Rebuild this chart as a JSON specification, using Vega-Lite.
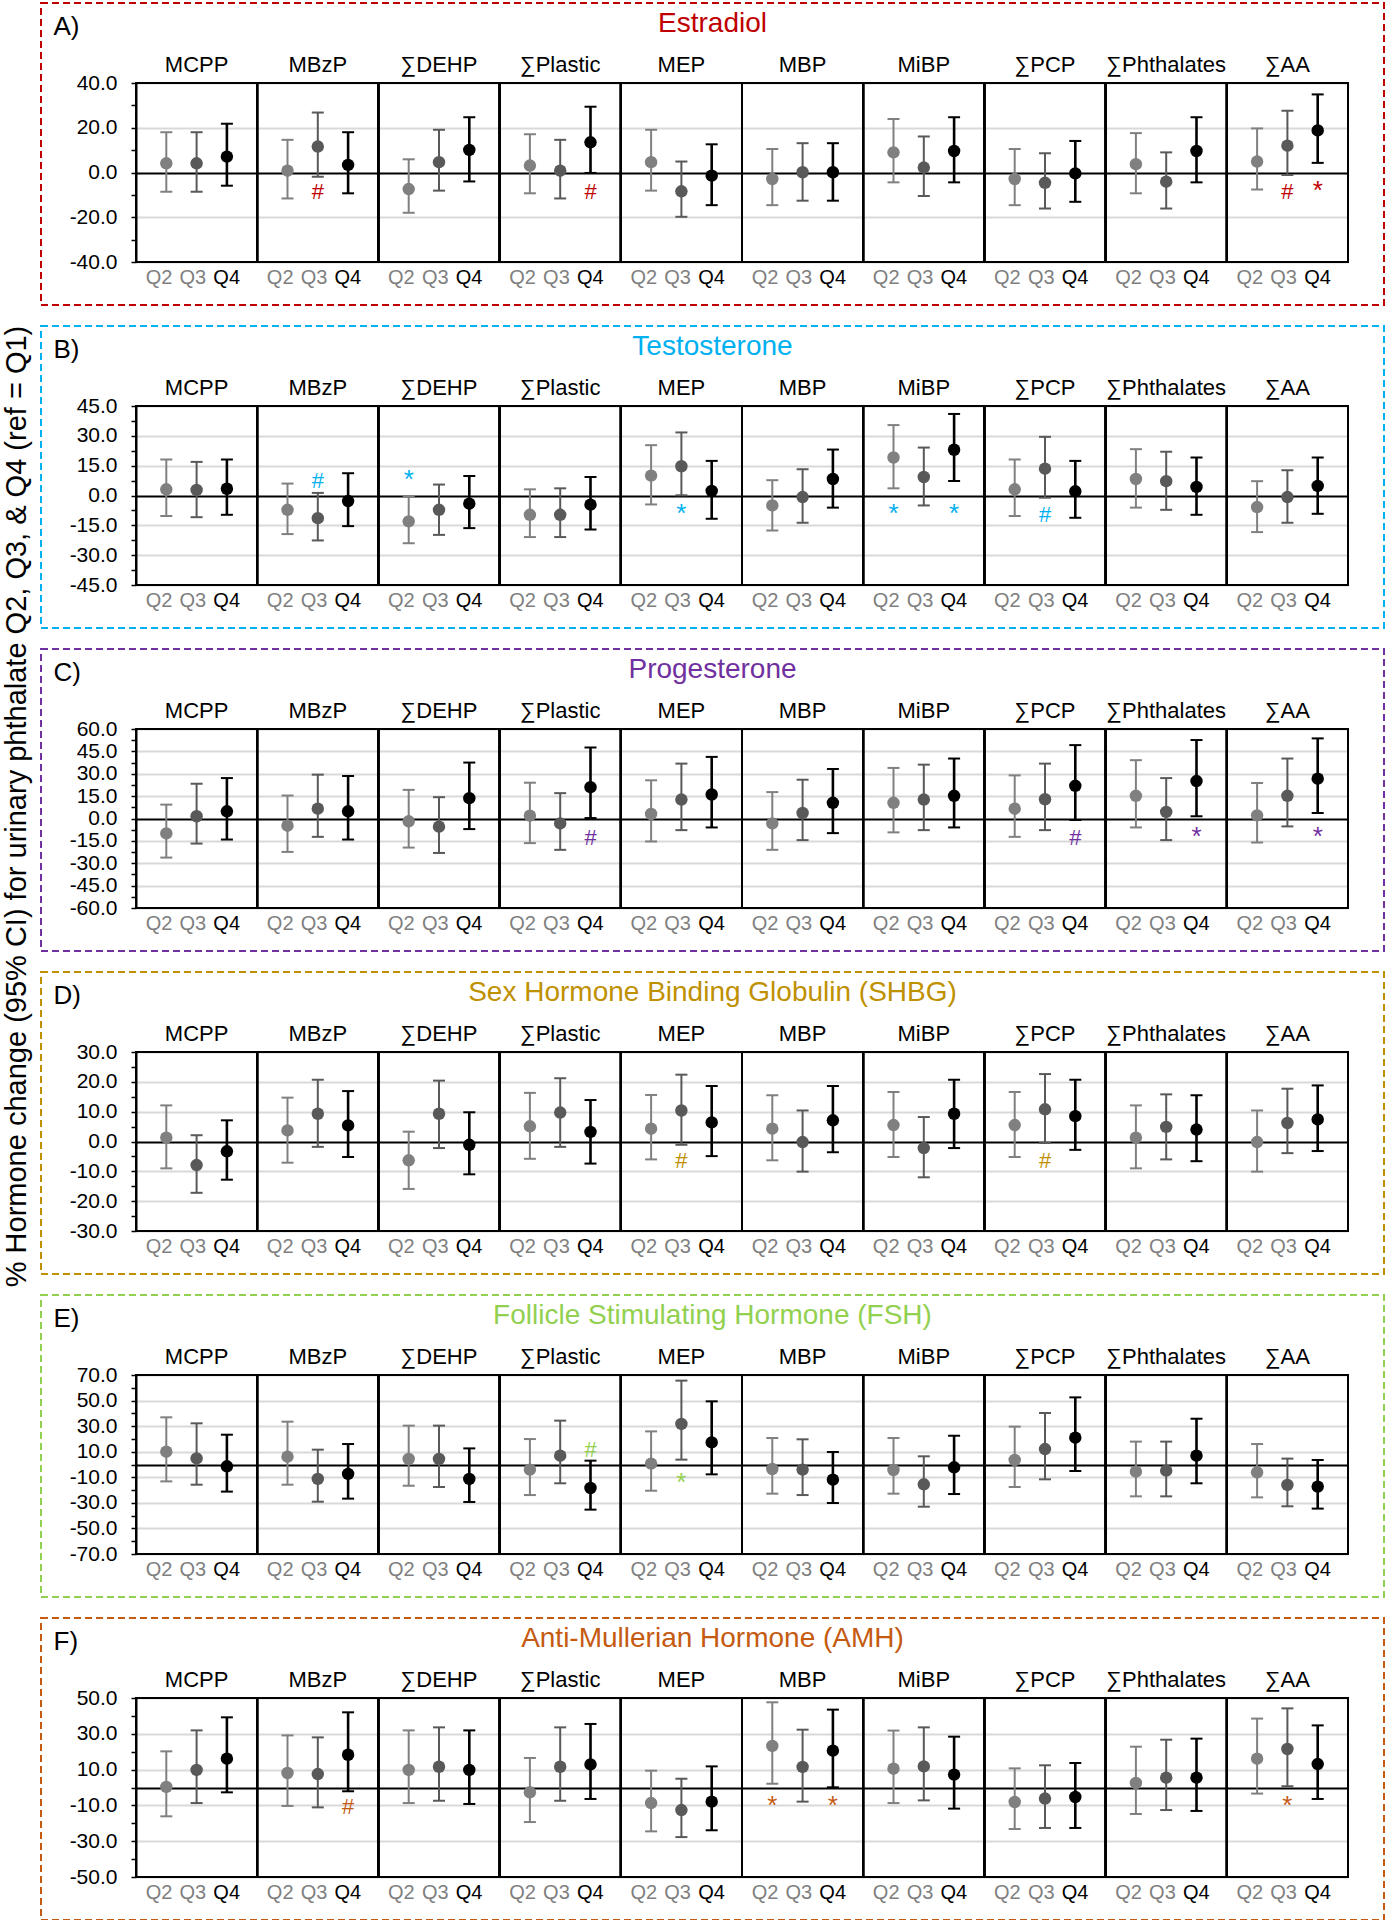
{
"$schema":"https://vega.github.io/schema/vega-lite/v6.json",
"background":"white",
"padding":{"left":2,"top":2,"right":0,"bottom":0},
"bounds":"flush",
"spacing":21,
"title":{"text":"% Hormone change (95% CI) for urinary phthalate Q2, Q3, & Q4 (ref = Q1)","orient":"left","anchor":"middle","fontSize":29,"fontWeight":"normal","color":"#000","offset":8,"dx":155},
"config":{"font":"Liberation Sans","view":{"stroke":null}},
"datasets":{"d":[
{"hormone":"Estradiol","exposure":"MCPP","quartile":"Q2","est":4.1,"lo":-8.6,"hi":18.0,"sig":""},
{"hormone":"Estradiol","exposure":"MCPP","quartile":"Q3","est":4.1,"lo":-8.6,"hi":18.0,"sig":""},
{"hormone":"Estradiol","exposure":"MCPP","quartile":"Q4","est":7.1,"lo":-5.9,"hi":21.8,"sig":""},
{"hormone":"Estradiol","exposure":"MBzP","quartile":"Q2","est":0.8,"lo":-11.6,"hi":14.6,"sig":""},
{"hormone":"Estradiol","exposure":"MBzP","quartile":"Q3","est":11.6,"lo":-1.9,"hi":26.8,"sig":"#"},
{"hormone":"Estradiol","exposure":"MBzP","quartile":"Q4","est":3.4,"lo":-9.3,"hi":18.0,"sig":""},
{"hormone":"Estradiol","exposure":"∑DEHP","quartile":"Q2","est":-7.4,"lo":-18.0,"hi":5.9,"sig":""},
{"hormone":"Estradiol","exposure":"∑DEHP","quartile":"Q3","est":4.6,"lo":-8.1,"hi":19.1,"sig":""},
{"hormone":"Estradiol","exposure":"∑DEHP","quartile":"Q4","est":10.1,"lo":-4.0,"hi":24.7,"sig":""},
{"hormone":"Estradiol","exposure":"∑Plastic","quartile":"Q2","est":3.1,"lo":-9.3,"hi":17.1,"sig":""},
{"hormone":"Estradiol","exposure":"∑Plastic","quartile":"Q3","est":0.8,"lo":-11.6,"hi":14.6,"sig":""},
{"hormone":"Estradiol","exposure":"∑Plastic","quartile":"Q4","est":13.5,"lo":-0.2,"hi":29.4,"sig":"#"},
{"hormone":"Estradiol","exposure":"MEP","quartile":"Q2","est":4.6,"lo":-8.1,"hi":19.1,"sig":""},
{"hormone":"Estradiol","exposure":"MEP","quartile":"Q3","est":-8.4,"lo":-19.8,"hi":4.9,"sig":""},
{"hormone":"Estradiol","exposure":"MEP","quartile":"Q4","est":-1.4,"lo":-14.6,"hi":12.6,"sig":""},
{"hormone":"Estradiol","exposure":"MBP","quartile":"Q2","est":-2.9,"lo":-14.6,"hi":10.5,"sig":""},
{"hormone":"Estradiol","exposure":"MBP","quartile":"Q3","est":0.1,"lo":-12.6,"hi":13.1,"sig":""},
{"hormone":"Estradiol","exposure":"MBP","quartile":"Q4","est":0.1,"lo":-12.6,"hi":13.1,"sig":""},
{"hormone":"Estradiol","exposure":"MiBP","quartile":"Q2","est":9.0,"lo":-4.4,"hi":23.9,"sig":""},
{"hormone":"Estradiol","exposure":"MiBP","quartile":"Q3","est":2.2,"lo":-10.5,"hi":16.1,"sig":""},
{"hormone":"Estradiol","exposure":"MiBP","quartile":"Q4","est":9.6,"lo":-4.4,"hi":24.7,"sig":""},
{"hormone":"Estradiol","exposure":"∑PCP","quartile":"Q2","est":-2.9,"lo":-14.6,"hi":10.5,"sig":""},
{"hormone":"Estradiol","exposure":"∑PCP","quartile":"Q3","est":-4.6,"lo":-16.1,"hi":8.6,"sig":""},
{"hormone":"Estradiol","exposure":"∑PCP","quartile":"Q4","est":-0.4,"lo":-13.1,"hi":14.1,"sig":""},
{"hormone":"Estradiol","exposure":"∑Phthalates","quartile":"Q2","est":3.7,"lo":-9.3,"hi":17.6,"sig":""},
{"hormone":"Estradiol","exposure":"∑Phthalates","quartile":"Q3","est":-4.1,"lo":-16.1,"hi":9.0,"sig":""},
{"hormone":"Estradiol","exposure":"∑Phthalates","quartile":"Q4","est":9.6,"lo":-4.4,"hi":24.7,"sig":""},
{"hormone":"Estradiol","exposure":"∑AA","quartile":"Q2","est":4.9,"lo":-7.6,"hi":19.7,"sig":""},
{"hormone":"Estradiol","exposure":"∑AA","quartile":"Q3","est":12.0,"lo":-1.1,"hi":27.6,"sig":"#"},
{"hormone":"Estradiol","exposure":"∑AA","quartile":"Q4","est":18.8,"lo":4.3,"hi":34.9,"sig":"*"},
{"hormone":"Testosterone","exposure":"MCPP","quartile":"Q2","est":3.1,"lo":-10.3,"hi":18.1,"sig":""},
{"hormone":"Testosterone","exposure":"MCPP","quartile":"Q3","est":2.8,"lo":-10.9,"hi":16.9,"sig":""},
{"hormone":"Testosterone","exposure":"MCPP","quartile":"Q4","est":3.4,"lo":-9.7,"hi":18.1,"sig":""},
{"hormone":"Testosterone","exposure":"MBzP","quartile":"Q2","est":-7.2,"lo":-19.4,"hi":6.0,"sig":""},
{"hormone":"Testosterone","exposure":"MBzP","quartile":"Q3","est":-11.4,"lo":-22.6,"hi":1.3,"sig":"#"},
{"hormone":"Testosterone","exposure":"MBzP","quartile":"Q4","est":-2.8,"lo":-15.4,"hi":11.2,"sig":""},
{"hormone":"Testosterone","exposure":"∑DEHP","quartile":"Q2","est":-13.0,"lo":-24.0,"hi":-0.3,"sig":"*"},
{"hormone":"Testosterone","exposure":"∑DEHP","quartile":"Q3","est":-7.2,"lo":-19.8,"hi":5.5,"sig":""},
{"hormone":"Testosterone","exposure":"∑DEHP","quartile":"Q4","est":-4.1,"lo":-16.4,"hi":9.8,"sig":""},
{"hormone":"Testosterone","exposure":"∑Plastic","quartile":"Q2","est":-9.7,"lo":-20.9,"hi":3.1,"sig":""},
{"hormone":"Testosterone","exposure":"∑Plastic","quartile":"Q3","est":-9.7,"lo":-20.9,"hi":3.6,"sig":""},
{"hormone":"Testosterone","exposure":"∑Plastic","quartile":"Q4","est":-4.6,"lo":-17.1,"hi":9.3,"sig":""},
{"hormone":"Testosterone","exposure":"MEP","quartile":"Q2","est":10.0,"lo":-4.5,"hi":25.3,"sig":""},
{"hormone":"Testosterone","exposure":"MEP","quartile":"Q3","est":14.7,"lo":0.1,"hi":31.7,"sig":"*"},
{"hormone":"Testosterone","exposure":"MEP","quartile":"Q4","est":2.3,"lo":-11.7,"hi":17.4,"sig":""},
{"hormone":"Testosterone","exposure":"MBP","quartile":"Q2","est":-5.0,"lo":-17.6,"hi":7.7,"sig":""},
{"hormone":"Testosterone","exposure":"MBP","quartile":"Q3","est":-0.8,"lo":-13.7,"hi":13.2,"sig":""},
{"hormone":"Testosterone","exposure":"MBP","quartile":"Q4","est":8.3,"lo":-6.1,"hi":23.1,"sig":""},
{"hormone":"Testosterone","exposure":"MiBP","quartile":"Q2","est":19.1,"lo":3.6,"hi":35.4,"sig":"*"},
{"hormone":"Testosterone","exposure":"MiBP","quartile":"Q3","est":9.3,"lo":-5.0,"hi":24.1,"sig":""},
{"hormone":"Testosterone","exposure":"MiBP","quartile":"Q4","est":23.0,"lo":7.3,"hi":41.0,"sig":"*"},
{"hormone":"Testosterone","exposure":"∑PCP","quartile":"Q2","est":3.1,"lo":-10.3,"hi":18.1,"sig":""},
{"hormone":"Testosterone","exposure":"∑PCP","quartile":"Q3","est":13.5,"lo":-1.1,"hi":29.5,"sig":"#"},
{"hormone":"Testosterone","exposure":"∑PCP","quartile":"Q4","est":2.1,"lo":-11.2,"hi":17.4,"sig":""},
{"hormone":"Testosterone","exposure":"∑Phthalates","quartile":"Q2","est":8.3,"lo":-6.1,"hi":23.3,"sig":""},
{"hormone":"Testosterone","exposure":"∑Phthalates","quartile":"Q3","est":7.2,"lo":-7.2,"hi":22.0,"sig":""},
{"hormone":"Testosterone","exposure":"∑Phthalates","quartile":"Q4","est":4.3,"lo":-9.7,"hi":19.1,"sig":""},
{"hormone":"Testosterone","exposure":"∑AA","quartile":"Q2","est":-5.8,"lo":-18.4,"hi":7.2,"sig":""},
{"hormone":"Testosterone","exposure":"∑AA","quartile":"Q3","est":-0.8,"lo":-13.7,"hi":12.7,"sig":""},
{"hormone":"Testosterone","exposure":"∑AA","quartile":"Q4","est":4.8,"lo":-9.2,"hi":19.1,"sig":""},
{"hormone":"Progesterone","exposure":"MCPP","quartile":"Q2","est":-10.0,"lo":-26.2,"hi":9.3,"sig":""},
{"hormone":"Progesterone","exposure":"MCPP","quartile":"Q3","est":1.5,"lo":-16.8,"hi":23.3,"sig":""},
{"hormone":"Progesterone","exposure":"MCPP","quartile":"Q4","est":4.8,"lo":-14.1,"hi":27.1,"sig":""},
{"hormone":"Progesterone","exposure":"MBzP","quartile":"Q2","est":-4.8,"lo":-22.4,"hi":15.4,"sig":""},
{"hormone":"Progesterone","exposure":"MBzP","quartile":"Q3","est":6.6,"lo":-12.3,"hi":29.4,"sig":""},
{"hormone":"Progesterone","exposure":"MBzP","quartile":"Q4","est":4.8,"lo":-14.1,"hi":28.5,"sig":""},
{"hormone":"Progesterone","exposure":"∑DEHP","quartile":"Q2","est":-1.9,"lo":-19.5,"hi":19.2,"sig":""},
{"hormone":"Progesterone","exposure":"∑DEHP","quartile":"Q3","est":-5.5,"lo":-23.1,"hi":14.3,"sig":""},
{"hormone":"Progesterone","exposure":"∑DEHP","quartile":"Q4","est":13.6,"lo":-7.1,"hi":37.5,"sig":""},
{"hormone":"Progesterone","exposure":"∑Plastic","quartile":"Q2","est":1.9,"lo":-16.5,"hi":24.0,"sig":""},
{"hormone":"Progesterone","exposure":"∑Plastic","quartile":"Q3","est":-3.3,"lo":-21.0,"hi":17.0,"sig":""},
{"hormone":"Progesterone","exposure":"∑Plastic","quartile":"Q4","est":21.0,"lo":0.3,"hi":47.6,"sig":"#"},
{"hormone":"Progesterone","exposure":"MEP","quartile":"Q2","est":3.0,"lo":-15.4,"hi":25.6,"sig":""},
{"hormone":"Progesterone","exposure":"MEP","quartile":"Q3","est":12.7,"lo":-7.8,"hi":36.8,"sig":""},
{"hormone":"Progesterone","exposure":"MEP","quartile":"Q4","est":16.1,"lo":-6.0,"hi":41.3,"sig":""},
{"hormone":"Progesterone","exposure":"MBP","quartile":"Q2","est":-3.3,"lo":-21.0,"hi":17.7,"sig":""},
{"hormone":"Progesterone","exposure":"MBP","quartile":"Q3","est":3.7,"lo":-14.5,"hi":26.0,"sig":""},
{"hormone":"Progesterone","exposure":"MBP","quartile":"Q4","est":10.5,"lo":-9.8,"hi":33.2,"sig":""},
{"hormone":"Progesterone","exposure":"MiBP","quartile":"Q2","est":10.5,"lo":-9.3,"hi":33.9,"sig":""},
{"hormone":"Progesterone","exposure":"MiBP","quartile":"Q3","est":12.7,"lo":-7.8,"hi":36.1,"sig":""},
{"hormone":"Progesterone","exposure":"MiBP","quartile":"Q4","est":15.2,"lo":-6.0,"hi":40.2,"sig":""},
{"hormone":"Progesterone","exposure":"∑PCP","quartile":"Q2","est":6.6,"lo":-12.3,"hi":28.9,"sig":""},
{"hormone":"Progesterone","exposure":"∑PCP","quartile":"Q3","est":12.9,"lo":-7.8,"hi":36.8,"sig":""},
{"hormone":"Progesterone","exposure":"∑PCP","quartile":"Q4","est":21.9,"lo":-1.0,"hi":49.2,"sig":"#"},
{"hormone":"Progesterone","exposure":"∑Phthalates","quartile":"Q2","est":15.2,"lo":-6.0,"hi":39.1,"sig":""},
{"hormone":"Progesterone","exposure":"∑Phthalates","quartile":"Q3","est":4.4,"lo":-14.5,"hi":27.1,"sig":""},
{"hormone":"Progesterone","exposure":"∑Phthalates","quartile":"Q4","est":25.1,"lo":1.5,"hi":52.6,"sig":"*"},
{"hormone":"Progesterone","exposure":"∑AA","quartile":"Q2","est":2.1,"lo":-16.1,"hi":23.8,"sig":""},
{"hormone":"Progesterone","exposure":"∑AA","quartile":"Q3","est":15.2,"lo":-5.3,"hi":40.2,"sig":""},
{"hormone":"Progesterone","exposure":"∑AA","quartile":"Q4","est":26.7,"lo":3.7,"hi":53.7,"sig":"*"},
{"hormone":"SHBG","exposure":"MCPP","quartile":"Q2","est":1.3,"lo":-9.0,"hi":12.1,"sig":""},
{"hormone":"SHBG","exposure":"MCPP","quartile":"Q3","est":-7.9,"lo":-17.2,"hi":2.1,"sig":""},
{"hormone":"SHBG","exposure":"MCPP","quartile":"Q4","est":-3.3,"lo":-12.8,"hi":7.1,"sig":""},
{"hormone":"SHBG","exposure":"MBzP","quartile":"Q2","est":3.7,"lo":-7.1,"hi":14.7,"sig":""},
{"hormone":"SHBG","exposure":"MBzP","quartile":"Q3","est":9.3,"lo":-1.8,"hi":20.7,"sig":""},
{"hormone":"SHBG","exposure":"MBzP","quartile":"Q4","est":5.4,"lo":-5.2,"hi":16.9,"sig":""},
{"hormone":"SHBG","exposure":"∑DEHP","quartile":"Q2","est":-6.3,"lo":-15.9,"hi":3.3,"sig":""},
{"hormone":"SHBG","exposure":"∑DEHP","quartile":"Q3","est":9.3,"lo":-2.2,"hi":20.4,"sig":""},
{"hormone":"SHBG","exposure":"∑DEHP","quartile":"Q4","est":-1.1,"lo":-11.0,"hi":9.8,"sig":""},
{"hormone":"SHBG","exposure":"∑Plastic","quartile":"Q2","est":5.1,"lo":-5.8,"hi":16.3,"sig":""},
{"hormone":"SHBG","exposure":"∑Plastic","quartile":"Q3","est":9.7,"lo":-1.8,"hi":21.2,"sig":""},
{"hormone":"SHBG","exposure":"∑Plastic","quartile":"Q4","est":3.2,"lo":-7.4,"hi":13.9,"sig":""},
{"hormone":"SHBG","exposure":"MEP","quartile":"Q2","est":4.3,"lo":-6.0,"hi":15.6,"sig":""},
{"hormone":"SHBG","exposure":"MEP","quartile":"Q3","est":10.4,"lo":-1.1,"hi":22.4,"sig":"#"},
{"hormone":"SHBG","exposure":"MEP","quartile":"Q4","est":6.4,"lo":-4.9,"hi":18.6,"sig":""},
{"hormone":"SHBG","exposure":"MBP","quartile":"Q2","est":4.3,"lo":-6.3,"hi":15.5,"sig":""},
{"hormone":"SHBG","exposure":"MBP","quartile":"Q3","est":-0.2,"lo":-10.1,"hi":10.4,"sig":""},
{"hormone":"SHBG","exposure":"MBP","quartile":"Q4","est":7.1,"lo":-3.6,"hi":18.6,"sig":""},
{"hormone":"SHBG","exposure":"MiBP","quartile":"Q2","est":5.5,"lo":-5.2,"hi":16.6,"sig":""},
{"hormone":"SHBG","exposure":"MiBP","quartile":"Q3","est":-2.2,"lo":-12.0,"hi":8.2,"sig":""},
{"hormone":"SHBG","exposure":"MiBP","quartile":"Q4","est":9.3,"lo":-2.2,"hi":20.7,"sig":""},
{"hormone":"SHBG","exposure":"∑PCP","quartile":"Q2","est":5.5,"lo":-5.2,"hi":16.6,"sig":""},
{"hormone":"SHBG","exposure":"∑PCP","quartile":"Q3","est":10.8,"lo":-0.5,"hi":22.6,"sig":"#"},
{"hormone":"SHBG","exposure":"∑PCP","quartile":"Q4","est":8.5,"lo":-2.8,"hi":20.7,"sig":""},
{"hormone":"SHBG","exposure":"∑Phthalates","quartile":"Q2","est":1.3,"lo":-9.0,"hi":12.1,"sig":""},
{"hormone":"SHBG","exposure":"∑Phthalates","quartile":"Q3","est":4.9,"lo":-6.0,"hi":15.8,"sig":""},
{"hormone":"SHBG","exposure":"∑Phthalates","quartile":"Q4","est":4.0,"lo":-6.6,"hi":15.5,"sig":""},
{"hormone":"SHBG","exposure":"∑AA","quartile":"Q2","est":-0.2,"lo":-10.1,"hi":10.4,"sig":""},
{"hormone":"SHBG","exposure":"∑AA","quartile":"Q3","est":6.2,"lo":-3.9,"hi":17.7,"sig":""},
{"hormone":"SHBG","exposure":"∑AA","quartile":"Q4","est":7.4,"lo":-3.2,"hi":18.8,"sig":""},
{"hormone":"FSH","exposure":"MCPP","quartile":"Q2","est":10.0,"lo":-13.2,"hi":36.9,"sig":""},
{"hormone":"FSH","exposure":"MCPP","quartile":"Q3","est":4.8,"lo":-15.8,"hi":32.2,"sig":""},
{"hormone":"FSH","exposure":"MCPP","quartile":"Q4","est":-1.4,"lo":-21.2,"hi":23.3,"sig":""},
{"hormone":"FSH","exposure":"MBzP","quartile":"Q2","est":6.1,"lo":-15.8,"hi":33.5,"sig":""},
{"hormone":"FSH","exposure":"MBzP","quartile":"Q3","est":-11.3,"lo":-29.1,"hi":11.6,"sig":""},
{"hormone":"FSH","exposure":"MBzP","quartile":"Q4","est":-7.4,"lo":-26.7,"hi":16.0,"sig":""},
{"hormone":"FSH","exposure":"∑DEHP","quartile":"Q2","est":4.3,"lo":-16.6,"hi":30.4,"sig":""},
{"hormone":"FSH","exposure":"∑DEHP","quartile":"Q3","est":4.3,"lo":-17.6,"hi":30.4,"sig":""},
{"hormone":"FSH","exposure":"∑DEHP","quartile":"Q4","est":-11.3,"lo":-29.3,"hi":12.6,"sig":""},
{"hormone":"FSH","exposure":"∑Plastic","quartile":"Q2","est":-4.0,"lo":-23.9,"hi":19.9,"sig":""},
{"hormone":"FSH","exposure":"∑Plastic","quartile":"Q3","est":6.9,"lo":-14.7,"hi":34.3,"sig":""},
{"hormone":"FSH","exposure":"∑Plastic","quartile":"Q4","est":-18.4,"lo":-35.3,"hi":3.0,"sig":"#"},
{"hormone":"FSH","exposure":"MEP","quartile":"Q2","est":0.7,"lo":-20.5,"hi":25.9,"sig":""},
{"hormone":"FSH","exposure":"MEP","quartile":"Q3","est":31.7,"lo":3.8,"hi":65.6,"sig":"*"},
{"hormone":"FSH","exposure":"MEP","quartile":"Q4","est":17.3,"lo":-7.7,"hi":49.4,"sig":""},
{"hormone":"FSH","exposure":"MBP","quartile":"Q2","est":-3.5,"lo":-22.8,"hi":20.7,"sig":""},
{"hormone":"FSH","exposure":"MBP","quartile":"Q3","est":-4.0,"lo":-23.9,"hi":19.7,"sig":""},
{"hormone":"FSH","exposure":"MBP","quartile":"Q4","est":-11.9,"lo":-30.1,"hi":9.8,"sig":""},
{"hormone":"FSH","exposure":"MiBP","quartile":"Q2","est":-4.3,"lo":-22.8,"hi":20.7,"sig":""},
{"hormone":"FSH","exposure":"MiBP","quartile":"Q3","est":-15.5,"lo":-33.0,"hi":6.4,"sig":""},
{"hormone":"FSH","exposure":"MiBP","quartile":"Q4","est":-2.2,"lo":-23.1,"hi":22.5,"sig":""},
{"hormone":"FSH","exposure":"∑PCP","quartile":"Q2","est":3.5,"lo":-17.6,"hi":29.6,"sig":""},
{"hormone":"FSH","exposure":"∑PCP","quartile":"Q3","est":12.1,"lo":-11.6,"hi":40.3,"sig":""},
{"hormone":"FSH","exposure":"∑PCP","quartile":"Q4","est":21.0,"lo":-5.1,"hi":52.5,"sig":""},
{"hormone":"FSH","exposure":"∑Phthalates","quartile":"Q2","est":-5.6,"lo":-24.9,"hi":17.9,"sig":""},
{"hormone":"FSH","exposure":"∑Phthalates","quartile":"Q3","est":-4.8,"lo":-24.9,"hi":17.9,"sig":""},
{"hormone":"FSH","exposure":"∑Phthalates","quartile":"Q4","est":6.9,"lo":-14.7,"hi":35.8,"sig":""},
{"hormone":"FSH","exposure":"∑AA","quartile":"Q2","est":-6.1,"lo":-25.7,"hi":16.0,"sig":""},
{"hormone":"FSH","exposure":"∑AA","quartile":"Q3","est":-16.0,"lo":-32.7,"hi":4.6,"sig":""},
{"hormone":"FSH","exposure":"∑AA","quartile":"Q4","est":-17.3,"lo":-34.5,"hi":3.5,"sig":""},
{"hormone":"AMH","exposure":"MCPP","quartile":"Q2","est":0.3,"lo":-16.1,"hi":20.2,"sig":""},
{"hormone":"AMH","exposure":"MCPP","quartile":"Q3","est":9.8,"lo":-8.7,"hi":31.9,"sig":""},
{"hormone":"AMH","exposure":"MCPP","quartile":"Q4","est":16.1,"lo":-2.7,"hi":39.2,"sig":""},
{"hormone":"AMH","exposure":"MBzP","quartile":"Q2","est":8.1,"lo":-10.3,"hi":29.1,"sig":""},
{"hormone":"AMH","exposure":"MBzP","quartile":"Q3","est":7.5,"lo":-11.1,"hi":28.0,"sig":""},
{"hormone":"AMH","exposure":"MBzP","quartile":"Q4","est":18.3,"lo":-2.1,"hi":42.0,"sig":"#"},
{"hormone":"AMH","exposure":"∑DEHP","quartile":"Q2","est":9.8,"lo":-8.7,"hi":31.9,"sig":""},
{"hormone":"AMH","exposure":"∑DEHP","quartile":"Q3","est":11.6,"lo":-7.4,"hi":33.6,"sig":""},
{"hormone":"AMH","exposure":"∑DEHP","quartile":"Q4","est":9.8,"lo":-9.2,"hi":31.9,"sig":""},
{"hormone":"AMH","exposure":"∑Plastic","quartile":"Q2","est":-2.7,"lo":-19.3,"hi":16.5,"sig":""},
{"hormone":"AMH","exposure":"∑Plastic","quartile":"Q3","est":11.6,"lo":-7.4,"hi":33.6,"sig":""},
{"hormone":"AMH","exposure":"∑Plastic","quartile":"Q4","est":12.9,"lo":-6.4,"hi":35.5,"sig":""},
{"hormone":"AMH","exposure":"MEP","quartile":"Q2","est":-8.7,"lo":-24.5,"hi":9.4,"sig":""},
{"hormone":"AMH","exposure":"MEP","quartile":"Q3","est":-12.6,"lo":-27.7,"hi":4.9,"sig":""},
{"hormone":"AMH","exposure":"MEP","quartile":"Q4","est":-7.9,"lo":-23.9,"hi":11.8,"sig":""},
{"hormone":"AMH","exposure":"MBP","quartile":"Q2","est":23.2,"lo":2.1,"hi":47.6,"sig":"*"},
{"hormone":"AMH","exposure":"MBP","quartile":"Q3","est":11.5,"lo":-7.9,"hi":32.3,"sig":""},
{"hormone":"AMH","exposure":"MBP","quartile":"Q4","est":20.6,"lo":0.1,"hi":43.5,"sig":"*"},
{"hormone":"AMH","exposure":"MiBP","quartile":"Q2","est":10.5,"lo":-8.7,"hi":31.8,"sig":""},
{"hormone":"AMH","exposure":"MiBP","quartile":"Q3","est":11.8,"lo":-7.2,"hi":33.6,"sig":""},
{"hormone":"AMH","exposure":"MiBP","quartile":"Q4","est":7.2,"lo":-11.8,"hi":28.4,"sig":""},
{"hormone":"AMH","exposure":"∑PCP","quartile":"Q2","est":-8.1,"lo":-23.2,"hi":10.7,"sig":""},
{"hormone":"AMH","exposure":"∑PCP","quartile":"Q3","est":-6.2,"lo":-22.6,"hi":12.4,"sig":""},
{"hormone":"AMH","exposure":"∑PCP","quartile":"Q4","est":-5.3,"lo":-22.6,"hi":13.7,"sig":""},
{"hormone":"AMH","exposure":"∑Phthalates","quartile":"Q2","est":2.5,"lo":-14.8,"hi":22.8,"sig":""},
{"hormone":"AMH","exposure":"∑Phthalates","quartile":"Q3","est":5.5,"lo":-12.6,"hi":26.7,"sig":""},
{"hormone":"AMH","exposure":"∑Phthalates","quartile":"Q4","est":5.5,"lo":-13.1,"hi":27.3,"sig":""},
{"hormone":"AMH","exposure":"∑AA","quartile":"Q2","est":16.1,"lo":-3.4,"hi":38.5,"sig":""},
{"hormone":"AMH","exposure":"∑AA","quartile":"Q3","est":21.5,"lo":0.7,"hi":44.2,"sig":"*"},
{"hormone":"AMH","exposure":"∑AA","quartile":"Q4","est":13.1,"lo":-6.4,"hi":34.7,"sig":""}
]},
"vconcat":[
{"width":1343,"height":302,
"view":{"stroke":"#c00000","strokeDash":[7,4],"strokeWidth":2},
"title":{"text":"Estradiol","color":"#c00000","fontSize":28,"fontWeight":"normal","anchor":"middle","frame":"group","offset":-57,"baseline":"alphabetic"},
"data":{"name":"d"},
"transform":[{"filter":"datum.hormone === 'Estradiol'"}],
"resolve":{"scale":{"xOffset":"independent"}},
"encoding":{"x":{"field":"exposure","type":"nominal","scale":{"domain":["MCPP","MBzP","∑DEHP","∑Plastic","MEP","MBP","MiBP","∑PCP","∑Phthalates","∑AA"],"range":[95,1307],"paddingInner":0,"paddingOuter":0},"axis":{"orient":"top","offset":-80,"domain":false,"ticks":false,"grid":false,"labelAngle":0,"labelFontSize":22,"labelColor":"#000","labelPadding":12,"labelBaseline":"alphabetic","labelLimit":300,"labelOverlap":false,"title":"A)","titleX":12,"titleY":-49,"titleAngle":0,"titleAlign":"left","titleBaseline":"alphabetic","titleFontSize":26,"titleFontWeight":"normal","titleColor":"#000"}}},
"layer":[
{"mark":{"type":"rect","fill":"transparent","stroke":"#000","strokeWidth":2},"encoding":{"y":{"datum":40,"type":"quantitative","scale":{"domain":[-40,40],"range":[259,80],"nice":false,"zero":false}},"y2":{"datum":-40}}},
{"mark":{"type":"rule"},"encoding":{"xOffset":{"field":"quartile","type":"nominal","scale":{"type":"point","padding":1,"domain":["Q2","Q3","Q4"]}},"y":{"field":"lo","type":"quantitative","scale":{"domain":[-40,40],"range":[259,80],"nice":false,"zero":false}},"y2":{"field":"hi"},"color":{"field":"quartile","type":"nominal","scale":{"domain":["Q2","Q3","Q4"],"range":["#808080","#595959","#000000"]},"legend":null},"strokeWidth":{"condition":{"test":"datum.quartile === 'Q4'","value":2.6},"value":2}}},
{"mark":{"type":"tick","size":12,"thickness":2,"opacity":1},"encoding":{"xOffset":{"field":"quartile","type":"nominal","scale":{"type":"point","padding":1,"domain":["Q2","Q3","Q4"]}},"y":{"field":"lo","type":"quantitative","scale":{"domain":[-40,40],"range":[259,80],"nice":false,"zero":false}},"color":{"field":"quartile","type":"nominal","scale":{"domain":["Q2","Q3","Q4"],"range":["#808080","#595959","#000000"]},"legend":null}}},
{"mark":{"type":"tick","size":12,"thickness":2,"opacity":1},"encoding":{"xOffset":{"field":"quartile","type":"nominal","scale":{"type":"point","padding":1,"domain":["Q2","Q3","Q4"]}},"y":{"field":"hi","type":"quantitative","scale":{"domain":[-40,40],"range":[259,80],"nice":false,"zero":false}},"color":{"field":"quartile","type":"nominal","scale":{"domain":["Q2","Q3","Q4"],"range":["#808080","#595959","#000000"]},"legend":null}}},
{"mark":{"type":"circle","size":155,"opacity":1},"encoding":{"xOffset":{"field":"quartile","type":"nominal","scale":{"type":"point","padding":1,"domain":["Q2","Q3","Q4"]}},"y":{"field":"est","type":"quantitative","scale":{"domain":[-40,40],"range":[259,80],"nice":false,"zero":false},"axis":{"orient":"left","offset":-95,"values":[-40,-30,-20,-10,0,10,20,30,40],"tickCount":100,"format":".1f","labelExpr":"datum.value % 20 === 0 ? replace(datum.label, '\u2212', '-') : ''","labelFontSize":21,"labelColor":"#000","labelPadding":14,"labelOverlap":false,"labelFlush":false,"domain":true,"domainColor":"#000","domainWidth":2,"ticks":true,"tickSize":5,"tickColor":"#000","tickWidth":1.5,"grid":true,"gridColor":{"condition":{"test":"datum.value === 0","value":"#000"},"value":"#d9d9d9"},"gridWidth":2,"gridOpacity":{"condition":{"test":"datum.value % 20 !== 0","value":0},"value":1},"title":null}},"color":{"field":"quartile","type":"nominal","scale":{"domain":["Q2","Q3","Q4"],"range":["#808080","#595959","#000000"]},"legend":null}}},
{"transform":[{"filter":"datum.sig !== '' && datum.est > 0"}],"mark":{"type":"text","baseline":"alphabetic","dy":26,"color":"#c00000"},"encoding":{"xOffset":{"field":"quartile","type":"nominal","scale":{"type":"point","padding":1,"domain":["Q2","Q3","Q4"]}},"y":{"datum":0,"type":"quantitative","scale":{"domain":[-40,40],"range":[259,80],"nice":false,"zero":false}},"text":{"field":"sig"},"size":{"condition":{"test":"datum.sig === '*'","value":26},"value":22}}},
{"transform":[{"filter":"datum.sig !== '' && datum.est < 0"}],"mark":{"type":"text","baseline":"alphabetic","dy":-8,"color":"#c00000"},"encoding":{"xOffset":{"field":"quartile","type":"nominal","scale":{"type":"point","padding":1,"domain":["Q2","Q3","Q4"]}},"y":{"datum":0,"type":"quantitative","scale":{"domain":[-40,40],"range":[259,80],"nice":false,"zero":false}},"text":{"field":"sig"},"size":{"condition":{"test":"datum.sig === '*'","value":26},"value":22}}},
{"mark":{"type":"text","fontSize":20,"baseline":"alphabetic","dy":22},"encoding":{"xOffset":{"field":"quartile","type":"nominal","scale":{"type":"point","padding":0.79,"align":0.43,"domain":["Q2","Q3","Q4"]}},"y":{"datum":-40,"type":"quantitative","scale":{"domain":[-40,40],"range":[259,80],"nice":false,"zero":false}},"text":{"field":"quartile"},"color":{"condition":{"test":"datum.quartile === 'Q4'","value":"#000"},"value":"#7f7f7f"}}}
]},
{"width":1343,"height":302,
"view":{"stroke":"#00b0f0","strokeDash":[7,4],"strokeWidth":2},
"title":{"text":"Testosterone","color":"#00b0f0","fontSize":28,"fontWeight":"normal","anchor":"middle","frame":"group","offset":-57,"baseline":"alphabetic"},
"data":{"name":"d"},
"transform":[{"filter":"datum.hormone === 'Testosterone'"}],
"resolve":{"scale":{"xOffset":"independent"}},
"encoding":{"x":{"field":"exposure","type":"nominal","scale":{"domain":["MCPP","MBzP","∑DEHP","∑Plastic","MEP","MBP","MiBP","∑PCP","∑Phthalates","∑AA"],"range":[95,1307],"paddingInner":0,"paddingOuter":0},"axis":{"orient":"top","offset":-80,"domain":false,"ticks":false,"grid":false,"labelAngle":0,"labelFontSize":22,"labelColor":"#000","labelPadding":12,"labelBaseline":"alphabetic","labelLimit":300,"labelOverlap":false,"title":"B)","titleX":12,"titleY":-49,"titleAngle":0,"titleAlign":"left","titleBaseline":"alphabetic","titleFontSize":26,"titleFontWeight":"normal","titleColor":"#000"}}},
"layer":[
{"mark":{"type":"rect","fill":"transparent","stroke":"#000","strokeWidth":2},"encoding":{"y":{"datum":45,"type":"quantitative","scale":{"domain":[-45,45],"range":[259,80],"nice":false,"zero":false}},"y2":{"datum":-45}}},
{"mark":{"type":"rule"},"encoding":{"xOffset":{"field":"quartile","type":"nominal","scale":{"type":"point","padding":1,"domain":["Q2","Q3","Q4"]}},"y":{"field":"lo","type":"quantitative","scale":{"domain":[-45,45],"range":[259,80],"nice":false,"zero":false}},"y2":{"field":"hi"},"color":{"field":"quartile","type":"nominal","scale":{"domain":["Q2","Q3","Q4"],"range":["#808080","#595959","#000000"]},"legend":null},"strokeWidth":{"condition":{"test":"datum.quartile === 'Q4'","value":2.6},"value":2}}},
{"mark":{"type":"tick","size":12,"thickness":2,"opacity":1},"encoding":{"xOffset":{"field":"quartile","type":"nominal","scale":{"type":"point","padding":1,"domain":["Q2","Q3","Q4"]}},"y":{"field":"lo","type":"quantitative","scale":{"domain":[-45,45],"range":[259,80],"nice":false,"zero":false}},"color":{"field":"quartile","type":"nominal","scale":{"domain":["Q2","Q3","Q4"],"range":["#808080","#595959","#000000"]},"legend":null}}},
{"mark":{"type":"tick","size":12,"thickness":2,"opacity":1},"encoding":{"xOffset":{"field":"quartile","type":"nominal","scale":{"type":"point","padding":1,"domain":["Q2","Q3","Q4"]}},"y":{"field":"hi","type":"quantitative","scale":{"domain":[-45,45],"range":[259,80],"nice":false,"zero":false}},"color":{"field":"quartile","type":"nominal","scale":{"domain":["Q2","Q3","Q4"],"range":["#808080","#595959","#000000"]},"legend":null}}},
{"mark":{"type":"circle","size":155,"opacity":1},"encoding":{"xOffset":{"field":"quartile","type":"nominal","scale":{"type":"point","padding":1,"domain":["Q2","Q3","Q4"]}},"y":{"field":"est","type":"quantitative","scale":{"domain":[-45,45],"range":[259,80],"nice":false,"zero":false},"axis":{"orient":"left","offset":-95,"values":[-45,-37.5,-30,-22.5,-15,-7.5,0,7.5,15,22.5,30,37.5,45],"tickCount":100,"format":".1f","labelExpr":"datum.value % 15 === 0 ? replace(datum.label, '\u2212', '-') : ''","labelFontSize":21,"labelColor":"#000","labelPadding":14,"labelOverlap":false,"labelFlush":false,"domain":true,"domainColor":"#000","domainWidth":2,"ticks":true,"tickSize":5,"tickColor":"#000","tickWidth":1.5,"grid":true,"gridColor":{"condition":{"test":"datum.value === 0","value":"#000"},"value":"#d9d9d9"},"gridWidth":2,"gridOpacity":{"condition":{"test":"datum.value % 15 !== 0","value":0},"value":1},"title":null}},"color":{"field":"quartile","type":"nominal","scale":{"domain":["Q2","Q3","Q4"],"range":["#808080","#595959","#000000"]},"legend":null}}},
{"transform":[{"filter":"datum.sig !== '' && datum.est > 0"}],"mark":{"type":"text","baseline":"alphabetic","dy":26,"color":"#00b0f0"},"encoding":{"xOffset":{"field":"quartile","type":"nominal","scale":{"type":"point","padding":1,"domain":["Q2","Q3","Q4"]}},"y":{"datum":0,"type":"quantitative","scale":{"domain":[-45,45],"range":[259,80],"nice":false,"zero":false}},"text":{"field":"sig"},"size":{"condition":{"test":"datum.sig === '*'","value":26},"value":22}}},
{"transform":[{"filter":"datum.sig !== '' && datum.est < 0"}],"mark":{"type":"text","baseline":"alphabetic","dy":-8,"color":"#00b0f0"},"encoding":{"xOffset":{"field":"quartile","type":"nominal","scale":{"type":"point","padding":1,"domain":["Q2","Q3","Q4"]}},"y":{"datum":0,"type":"quantitative","scale":{"domain":[-45,45],"range":[259,80],"nice":false,"zero":false}},"text":{"field":"sig"},"size":{"condition":{"test":"datum.sig === '*'","value":26},"value":22}}},
{"mark":{"type":"text","fontSize":20,"baseline":"alphabetic","dy":22},"encoding":{"xOffset":{"field":"quartile","type":"nominal","scale":{"type":"point","padding":0.79,"align":0.43,"domain":["Q2","Q3","Q4"]}},"y":{"datum":-45,"type":"quantitative","scale":{"domain":[-45,45],"range":[259,80],"nice":false,"zero":false}},"text":{"field":"quartile"},"color":{"condition":{"test":"datum.quartile === 'Q4'","value":"#000"},"value":"#7f7f7f"}}}
]},
{"width":1343,"height":302,
"view":{"stroke":"#7030a0","strokeDash":[7,4],"strokeWidth":2},
"title":{"text":"Progesterone","color":"#7030a0","fontSize":28,"fontWeight":"normal","anchor":"middle","frame":"group","offset":-57,"baseline":"alphabetic"},
"data":{"name":"d"},
"transform":[{"filter":"datum.hormone === 'Progesterone'"}],
"resolve":{"scale":{"xOffset":"independent"}},
"encoding":{"x":{"field":"exposure","type":"nominal","scale":{"domain":["MCPP","MBzP","∑DEHP","∑Plastic","MEP","MBP","MiBP","∑PCP","∑Phthalates","∑AA"],"range":[95,1307],"paddingInner":0,"paddingOuter":0},"axis":{"orient":"top","offset":-80,"domain":false,"ticks":false,"grid":false,"labelAngle":0,"labelFontSize":22,"labelColor":"#000","labelPadding":12,"labelBaseline":"alphabetic","labelLimit":300,"labelOverlap":false,"title":"C)","titleX":12,"titleY":-49,"titleAngle":0,"titleAlign":"left","titleBaseline":"alphabetic","titleFontSize":26,"titleFontWeight":"normal","titleColor":"#000"}}},
"layer":[
{"mark":{"type":"rect","fill":"transparent","stroke":"#000","strokeWidth":2},"encoding":{"y":{"datum":60,"type":"quantitative","scale":{"domain":[-60,60],"range":[259,80],"nice":false,"zero":false}},"y2":{"datum":-60}}},
{"mark":{"type":"rule"},"encoding":{"xOffset":{"field":"quartile","type":"nominal","scale":{"type":"point","padding":1,"domain":["Q2","Q3","Q4"]}},"y":{"field":"lo","type":"quantitative","scale":{"domain":[-60,60],"range":[259,80],"nice":false,"zero":false}},"y2":{"field":"hi"},"color":{"field":"quartile","type":"nominal","scale":{"domain":["Q2","Q3","Q4"],"range":["#808080","#595959","#000000"]},"legend":null},"strokeWidth":{"condition":{"test":"datum.quartile === 'Q4'","value":2.6},"value":2}}},
{"mark":{"type":"tick","size":12,"thickness":2,"opacity":1},"encoding":{"xOffset":{"field":"quartile","type":"nominal","scale":{"type":"point","padding":1,"domain":["Q2","Q3","Q4"]}},"y":{"field":"lo","type":"quantitative","scale":{"domain":[-60,60],"range":[259,80],"nice":false,"zero":false}},"color":{"field":"quartile","type":"nominal","scale":{"domain":["Q2","Q3","Q4"],"range":["#808080","#595959","#000000"]},"legend":null}}},
{"mark":{"type":"tick","size":12,"thickness":2,"opacity":1},"encoding":{"xOffset":{"field":"quartile","type":"nominal","scale":{"type":"point","padding":1,"domain":["Q2","Q3","Q4"]}},"y":{"field":"hi","type":"quantitative","scale":{"domain":[-60,60],"range":[259,80],"nice":false,"zero":false}},"color":{"field":"quartile","type":"nominal","scale":{"domain":["Q2","Q3","Q4"],"range":["#808080","#595959","#000000"]},"legend":null}}},
{"mark":{"type":"circle","size":155,"opacity":1},"encoding":{"xOffset":{"field":"quartile","type":"nominal","scale":{"type":"point","padding":1,"domain":["Q2","Q3","Q4"]}},"y":{"field":"est","type":"quantitative","scale":{"domain":[-60,60],"range":[259,80],"nice":false,"zero":false},"axis":{"orient":"left","offset":-95,"values":[-60,-52.5,-45,-37.5,-30,-22.5,-15,-7.5,0,7.5,15,22.5,30,37.5,45,52.5,60],"tickCount":100,"format":".1f","labelExpr":"datum.value % 15 === 0 ? replace(datum.label, '\u2212', '-') : ''","labelFontSize":21,"labelColor":"#000","labelPadding":14,"labelOverlap":false,"labelFlush":false,"domain":true,"domainColor":"#000","domainWidth":2,"ticks":true,"tickSize":5,"tickColor":"#000","tickWidth":1.5,"grid":true,"gridColor":{"condition":{"test":"datum.value === 0","value":"#000"},"value":"#d9d9d9"},"gridWidth":2,"gridOpacity":{"condition":{"test":"datum.value % 15 !== 0","value":0},"value":1},"title":null}},"color":{"field":"quartile","type":"nominal","scale":{"domain":["Q2","Q3","Q4"],"range":["#808080","#595959","#000000"]},"legend":null}}},
{"transform":[{"filter":"datum.sig !== '' && datum.est > 0"}],"mark":{"type":"text","baseline":"alphabetic","dy":26,"color":"#7030a0"},"encoding":{"xOffset":{"field":"quartile","type":"nominal","scale":{"type":"point","padding":1,"domain":["Q2","Q3","Q4"]}},"y":{"datum":0,"type":"quantitative","scale":{"domain":[-60,60],"range":[259,80],"nice":false,"zero":false}},"text":{"field":"sig"},"size":{"condition":{"test":"datum.sig === '*'","value":26},"value":22}}},
{"transform":[{"filter":"datum.sig !== '' && datum.est < 0"}],"mark":{"type":"text","baseline":"alphabetic","dy":-8,"color":"#7030a0"},"encoding":{"xOffset":{"field":"quartile","type":"nominal","scale":{"type":"point","padding":1,"domain":["Q2","Q3","Q4"]}},"y":{"datum":0,"type":"quantitative","scale":{"domain":[-60,60],"range":[259,80],"nice":false,"zero":false}},"text":{"field":"sig"},"size":{"condition":{"test":"datum.sig === '*'","value":26},"value":22}}},
{"mark":{"type":"text","fontSize":20,"baseline":"alphabetic","dy":22},"encoding":{"xOffset":{"field":"quartile","type":"nominal","scale":{"type":"point","padding":0.79,"align":0.43,"domain":["Q2","Q3","Q4"]}},"y":{"datum":-60,"type":"quantitative","scale":{"domain":[-60,60],"range":[259,80],"nice":false,"zero":false}},"text":{"field":"quartile"},"color":{"condition":{"test":"datum.quartile === 'Q4'","value":"#000"},"value":"#7f7f7f"}}}
]},
{"width":1343,"height":302,
"view":{"stroke":"#bf9000","strokeDash":[7,4],"strokeWidth":2},
"title":{"text":"Sex Hormone Binding Globulin (SHBG)","color":"#bf9000","fontSize":28,"fontWeight":"normal","anchor":"middle","frame":"group","offset":-57,"baseline":"alphabetic"},
"data":{"name":"d"},
"transform":[{"filter":"datum.hormone === 'SHBG'"}],
"resolve":{"scale":{"xOffset":"independent"}},
"encoding":{"x":{"field":"exposure","type":"nominal","scale":{"domain":["MCPP","MBzP","∑DEHP","∑Plastic","MEP","MBP","MiBP","∑PCP","∑Phthalates","∑AA"],"range":[95,1307],"paddingInner":0,"paddingOuter":0},"axis":{"orient":"top","offset":-80,"domain":false,"ticks":false,"grid":false,"labelAngle":0,"labelFontSize":22,"labelColor":"#000","labelPadding":12,"labelBaseline":"alphabetic","labelLimit":300,"labelOverlap":false,"title":"D)","titleX":12,"titleY":-49,"titleAngle":0,"titleAlign":"left","titleBaseline":"alphabetic","titleFontSize":26,"titleFontWeight":"normal","titleColor":"#000"}}},
"layer":[
{"mark":{"type":"rect","fill":"transparent","stroke":"#000","strokeWidth":2},"encoding":{"y":{"datum":30,"type":"quantitative","scale":{"domain":[-30,30],"range":[259,80],"nice":false,"zero":false}},"y2":{"datum":-30}}},
{"mark":{"type":"rule"},"encoding":{"xOffset":{"field":"quartile","type":"nominal","scale":{"type":"point","padding":1,"domain":["Q2","Q3","Q4"]}},"y":{"field":"lo","type":"quantitative","scale":{"domain":[-30,30],"range":[259,80],"nice":false,"zero":false}},"y2":{"field":"hi"},"color":{"field":"quartile","type":"nominal","scale":{"domain":["Q2","Q3","Q4"],"range":["#808080","#595959","#000000"]},"legend":null},"strokeWidth":{"condition":{"test":"datum.quartile === 'Q4'","value":2.6},"value":2}}},
{"mark":{"type":"tick","size":12,"thickness":2,"opacity":1},"encoding":{"xOffset":{"field":"quartile","type":"nominal","scale":{"type":"point","padding":1,"domain":["Q2","Q3","Q4"]}},"y":{"field":"lo","type":"quantitative","scale":{"domain":[-30,30],"range":[259,80],"nice":false,"zero":false}},"color":{"field":"quartile","type":"nominal","scale":{"domain":["Q2","Q3","Q4"],"range":["#808080","#595959","#000000"]},"legend":null}}},
{"mark":{"type":"tick","size":12,"thickness":2,"opacity":1},"encoding":{"xOffset":{"field":"quartile","type":"nominal","scale":{"type":"point","padding":1,"domain":["Q2","Q3","Q4"]}},"y":{"field":"hi","type":"quantitative","scale":{"domain":[-30,30],"range":[259,80],"nice":false,"zero":false}},"color":{"field":"quartile","type":"nominal","scale":{"domain":["Q2","Q3","Q4"],"range":["#808080","#595959","#000000"]},"legend":null}}},
{"mark":{"type":"circle","size":155,"opacity":1},"encoding":{"xOffset":{"field":"quartile","type":"nominal","scale":{"type":"point","padding":1,"domain":["Q2","Q3","Q4"]}},"y":{"field":"est","type":"quantitative","scale":{"domain":[-30,30],"range":[259,80],"nice":false,"zero":false},"axis":{"orient":"left","offset":-95,"values":[-30,-25,-20,-15,-10,-5,0,5,10,15,20,25,30],"tickCount":100,"format":".1f","labelExpr":"datum.value % 10 === 0 ? replace(datum.label, '\u2212', '-') : ''","labelFontSize":21,"labelColor":"#000","labelPadding":14,"labelOverlap":false,"labelFlush":false,"domain":true,"domainColor":"#000","domainWidth":2,"ticks":true,"tickSize":5,"tickColor":"#000","tickWidth":1.5,"grid":true,"gridColor":{"condition":{"test":"datum.value === 0","value":"#000"},"value":"#d9d9d9"},"gridWidth":2,"gridOpacity":{"condition":{"test":"datum.value % 10 !== 0","value":0},"value":1},"title":null}},"color":{"field":"quartile","type":"nominal","scale":{"domain":["Q2","Q3","Q4"],"range":["#808080","#595959","#000000"]},"legend":null}}},
{"transform":[{"filter":"datum.sig !== '' && datum.est > 0"}],"mark":{"type":"text","baseline":"alphabetic","dy":26,"color":"#bf9000"},"encoding":{"xOffset":{"field":"quartile","type":"nominal","scale":{"type":"point","padding":1,"domain":["Q2","Q3","Q4"]}},"y":{"datum":0,"type":"quantitative","scale":{"domain":[-30,30],"range":[259,80],"nice":false,"zero":false}},"text":{"field":"sig"},"size":{"condition":{"test":"datum.sig === '*'","value":26},"value":22}}},
{"transform":[{"filter":"datum.sig !== '' && datum.est < 0"}],"mark":{"type":"text","baseline":"alphabetic","dy":-8,"color":"#bf9000"},"encoding":{"xOffset":{"field":"quartile","type":"nominal","scale":{"type":"point","padding":1,"domain":["Q2","Q3","Q4"]}},"y":{"datum":0,"type":"quantitative","scale":{"domain":[-30,30],"range":[259,80],"nice":false,"zero":false}},"text":{"field":"sig"},"size":{"condition":{"test":"datum.sig === '*'","value":26},"value":22}}},
{"mark":{"type":"text","fontSize":20,"baseline":"alphabetic","dy":22},"encoding":{"xOffset":{"field":"quartile","type":"nominal","scale":{"type":"point","padding":0.79,"align":0.43,"domain":["Q2","Q3","Q4"]}},"y":{"datum":-30,"type":"quantitative","scale":{"domain":[-30,30],"range":[259,80],"nice":false,"zero":false}},"text":{"field":"quartile"},"color":{"condition":{"test":"datum.quartile === 'Q4'","value":"#000"},"value":"#7f7f7f"}}}
]},
{"width":1343,"height":302,
"view":{"stroke":"#92d050","strokeDash":[7,4],"strokeWidth":2},
"title":{"text":"Follicle Stimulating Hormone (FSH)","color":"#92d050","fontSize":28,"fontWeight":"normal","anchor":"middle","frame":"group","offset":-57,"baseline":"alphabetic"},
"data":{"name":"d"},
"transform":[{"filter":"datum.hormone === 'FSH'"}],
"resolve":{"scale":{"xOffset":"independent"}},
"encoding":{"x":{"field":"exposure","type":"nominal","scale":{"domain":["MCPP","MBzP","∑DEHP","∑Plastic","MEP","MBP","MiBP","∑PCP","∑Phthalates","∑AA"],"range":[95,1307],"paddingInner":0,"paddingOuter":0},"axis":{"orient":"top","offset":-80,"domain":false,"ticks":false,"grid":false,"labelAngle":0,"labelFontSize":22,"labelColor":"#000","labelPadding":12,"labelBaseline":"alphabetic","labelLimit":300,"labelOverlap":false,"title":"E)","titleX":12,"titleY":-49,"titleAngle":0,"titleAlign":"left","titleBaseline":"alphabetic","titleFontSize":26,"titleFontWeight":"normal","titleColor":"#000"}}},
"layer":[
{"mark":{"type":"rect","fill":"transparent","stroke":"#000","strokeWidth":2},"encoding":{"y":{"datum":70,"type":"quantitative","scale":{"domain":[-70,70],"range":[259,80],"nice":false,"zero":false}},"y2":{"datum":-70}}},
{"mark":{"type":"rule"},"encoding":{"xOffset":{"field":"quartile","type":"nominal","scale":{"type":"point","padding":1,"domain":["Q2","Q3","Q4"]}},"y":{"field":"lo","type":"quantitative","scale":{"domain":[-70,70],"range":[259,80],"nice":false,"zero":false}},"y2":{"field":"hi"},"color":{"field":"quartile","type":"nominal","scale":{"domain":["Q2","Q3","Q4"],"range":["#808080","#595959","#000000"]},"legend":null},"strokeWidth":{"condition":{"test":"datum.quartile === 'Q4'","value":2.6},"value":2}}},
{"mark":{"type":"tick","size":12,"thickness":2,"opacity":1},"encoding":{"xOffset":{"field":"quartile","type":"nominal","scale":{"type":"point","padding":1,"domain":["Q2","Q3","Q4"]}},"y":{"field":"lo","type":"quantitative","scale":{"domain":[-70,70],"range":[259,80],"nice":false,"zero":false}},"color":{"field":"quartile","type":"nominal","scale":{"domain":["Q2","Q3","Q4"],"range":["#808080","#595959","#000000"]},"legend":null}}},
{"mark":{"type":"tick","size":12,"thickness":2,"opacity":1},"encoding":{"xOffset":{"field":"quartile","type":"nominal","scale":{"type":"point","padding":1,"domain":["Q2","Q3","Q4"]}},"y":{"field":"hi","type":"quantitative","scale":{"domain":[-70,70],"range":[259,80],"nice":false,"zero":false}},"color":{"field":"quartile","type":"nominal","scale":{"domain":["Q2","Q3","Q4"],"range":["#808080","#595959","#000000"]},"legend":null}}},
{"mark":{"type":"circle","size":155,"opacity":1},"encoding":{"xOffset":{"field":"quartile","type":"nominal","scale":{"type":"point","padding":1,"domain":["Q2","Q3","Q4"]}},"y":{"field":"est","type":"quantitative","scale":{"domain":[-70,70],"range":[259,80],"nice":false,"zero":false},"axis":{"orient":"left","offset":-95,"values":[-70,-60,-50,-40,-30,-20,-10,0,10,20,30,40,50,60,70],"tickCount":100,"format":".1f","labelExpr":"(datum.value + 10) % 20 === 0 ? replace(datum.label, '\u2212', '-') : ''","labelFontSize":21,"labelColor":"#000","labelPadding":14,"labelOverlap":false,"labelFlush":false,"domain":true,"domainColor":"#000","domainWidth":2,"ticks":true,"tickSize":5,"tickColor":"#000","tickWidth":1.5,"grid":true,"gridColor":{"condition":{"test":"datum.value === 0","value":"#000"},"value":"#d9d9d9"},"gridWidth":2,"gridOpacity":{"condition":{"test":"datum.value !== 0 && (datum.value + 10) % 20 !== 0","value":0},"value":1},"title":null}},"color":{"field":"quartile","type":"nominal","scale":{"domain":["Q2","Q3","Q4"],"range":["#808080","#595959","#000000"]},"legend":null}}},
{"transform":[{"filter":"datum.sig !== '' && datum.est > 0"}],"mark":{"type":"text","baseline":"alphabetic","dy":26,"color":"#92d050"},"encoding":{"xOffset":{"field":"quartile","type":"nominal","scale":{"type":"point","padding":1,"domain":["Q2","Q3","Q4"]}},"y":{"datum":0,"type":"quantitative","scale":{"domain":[-70,70],"range":[259,80],"nice":false,"zero":false}},"text":{"field":"sig"},"size":{"condition":{"test":"datum.sig === '*'","value":26},"value":22}}},
{"transform":[{"filter":"datum.sig !== '' && datum.est < 0"}],"mark":{"type":"text","baseline":"alphabetic","dy":-8,"color":"#92d050"},"encoding":{"xOffset":{"field":"quartile","type":"nominal","scale":{"type":"point","padding":1,"domain":["Q2","Q3","Q4"]}},"y":{"datum":0,"type":"quantitative","scale":{"domain":[-70,70],"range":[259,80],"nice":false,"zero":false}},"text":{"field":"sig"},"size":{"condition":{"test":"datum.sig === '*'","value":26},"value":22}}},
{"mark":{"type":"text","fontSize":20,"baseline":"alphabetic","dy":22},"encoding":{"xOffset":{"field":"quartile","type":"nominal","scale":{"type":"point","padding":0.79,"align":0.43,"domain":["Q2","Q3","Q4"]}},"y":{"datum":-70,"type":"quantitative","scale":{"domain":[-70,70],"range":[259,80],"nice":false,"zero":false}},"text":{"field":"quartile"},"color":{"condition":{"test":"datum.quartile === 'Q4'","value":"#000"},"value":"#7f7f7f"}}}
]},
{"width":1343,"height":302,
"view":{"stroke":"#c55a11","strokeDash":[7,4],"strokeWidth":2},
"title":{"text":"Anti-Mullerian Hormone (AMH)","color":"#c55a11","fontSize":28,"fontWeight":"normal","anchor":"middle","frame":"group","offset":-57,"baseline":"alphabetic"},
"data":{"name":"d"},
"transform":[{"filter":"datum.hormone === 'AMH'"}],
"resolve":{"scale":{"xOffset":"independent"}},
"encoding":{"x":{"field":"exposure","type":"nominal","scale":{"domain":["MCPP","MBzP","∑DEHP","∑Plastic","MEP","MBP","MiBP","∑PCP","∑Phthalates","∑AA"],"range":[95,1307],"paddingInner":0,"paddingOuter":0},"axis":{"orient":"top","offset":-80,"domain":false,"ticks":false,"grid":false,"labelAngle":0,"labelFontSize":22,"labelColor":"#000","labelPadding":12,"labelBaseline":"alphabetic","labelLimit":300,"labelOverlap":false,"title":"F)","titleX":12,"titleY":-49,"titleAngle":0,"titleAlign":"left","titleBaseline":"alphabetic","titleFontSize":26,"titleFontWeight":"normal","titleColor":"#000"}}},
"layer":[
{"mark":{"type":"rect","fill":"transparent","stroke":"#000","strokeWidth":2},"encoding":{"y":{"datum":50,"type":"quantitative","scale":{"domain":[-50,50],"range":[259,80],"nice":false,"zero":false}},"y2":{"datum":-50}}},
{"mark":{"type":"rule"},"encoding":{"xOffset":{"field":"quartile","type":"nominal","scale":{"type":"point","padding":1,"domain":["Q2","Q3","Q4"]}},"y":{"field":"lo","type":"quantitative","scale":{"domain":[-50,50],"range":[259,80],"nice":false,"zero":false}},"y2":{"field":"hi"},"color":{"field":"quartile","type":"nominal","scale":{"domain":["Q2","Q3","Q4"],"range":["#808080","#595959","#000000"]},"legend":null},"strokeWidth":{"condition":{"test":"datum.quartile === 'Q4'","value":2.6},"value":2}}},
{"mark":{"type":"tick","size":12,"thickness":2,"opacity":1},"encoding":{"xOffset":{"field":"quartile","type":"nominal","scale":{"type":"point","padding":1,"domain":["Q2","Q3","Q4"]}},"y":{"field":"lo","type":"quantitative","scale":{"domain":[-50,50],"range":[259,80],"nice":false,"zero":false}},"color":{"field":"quartile","type":"nominal","scale":{"domain":["Q2","Q3","Q4"],"range":["#808080","#595959","#000000"]},"legend":null}}},
{"mark":{"type":"tick","size":12,"thickness":2,"opacity":1},"encoding":{"xOffset":{"field":"quartile","type":"nominal","scale":{"type":"point","padding":1,"domain":["Q2","Q3","Q4"]}},"y":{"field":"hi","type":"quantitative","scale":{"domain":[-50,50],"range":[259,80],"nice":false,"zero":false}},"color":{"field":"quartile","type":"nominal","scale":{"domain":["Q2","Q3","Q4"],"range":["#808080","#595959","#000000"]},"legend":null}}},
{"mark":{"type":"circle","size":155,"opacity":1},"encoding":{"xOffset":{"field":"quartile","type":"nominal","scale":{"type":"point","padding":1,"domain":["Q2","Q3","Q4"]}},"y":{"field":"est","type":"quantitative","scale":{"domain":[-50,50],"range":[259,80],"nice":false,"zero":false},"axis":{"orient":"left","offset":-95,"values":[-50,-40,-30,-20,-10,0,10,20,30,40,50],"tickCount":100,"format":".1f","labelExpr":"(datum.value + 10) % 20 === 0 ? replace(datum.label, '\u2212', '-') : ''","labelFontSize":21,"labelColor":"#000","labelPadding":14,"labelOverlap":false,"labelFlush":false,"domain":true,"domainColor":"#000","domainWidth":2,"ticks":true,"tickSize":5,"tickColor":"#000","tickWidth":1.5,"grid":true,"gridColor":{"condition":{"test":"datum.value === 0","value":"#000"},"value":"#d9d9d9"},"gridWidth":2,"gridOpacity":{"condition":{"test":"datum.value !== 0 && (datum.value + 10) % 20 !== 0","value":0},"value":1},"title":null}},"color":{"field":"quartile","type":"nominal","scale":{"domain":["Q2","Q3","Q4"],"range":["#808080","#595959","#000000"]},"legend":null}}},
{"transform":[{"filter":"datum.sig !== '' && datum.est > 0"}],"mark":{"type":"text","baseline":"alphabetic","dy":26,"color":"#c55a11"},"encoding":{"xOffset":{"field":"quartile","type":"nominal","scale":{"type":"point","padding":1,"domain":["Q2","Q3","Q4"]}},"y":{"datum":0,"type":"quantitative","scale":{"domain":[-50,50],"range":[259,80],"nice":false,"zero":false}},"text":{"field":"sig"},"size":{"condition":{"test":"datum.sig === '*'","value":26},"value":22}}},
{"transform":[{"filter":"datum.sig !== '' && datum.est < 0"}],"mark":{"type":"text","baseline":"alphabetic","dy":-8,"color":"#c55a11"},"encoding":{"xOffset":{"field":"quartile","type":"nominal","scale":{"type":"point","padding":1,"domain":["Q2","Q3","Q4"]}},"y":{"datum":0,"type":"quantitative","scale":{"domain":[-50,50],"range":[259,80],"nice":false,"zero":false}},"text":{"field":"sig"},"size":{"condition":{"test":"datum.sig === '*'","value":26},"value":22}}},
{"mark":{"type":"text","fontSize":20,"baseline":"alphabetic","dy":22},"encoding":{"xOffset":{"field":"quartile","type":"nominal","scale":{"type":"point","padding":0.79,"align":0.43,"domain":["Q2","Q3","Q4"]}},"y":{"datum":-50,"type":"quantitative","scale":{"domain":[-50,50],"range":[259,80],"nice":false,"zero":false}},"text":{"field":"quartile"},"color":{"condition":{"test":"datum.quartile === 'Q4'","value":"#000"},"value":"#7f7f7f"}}}
]}
]
}
